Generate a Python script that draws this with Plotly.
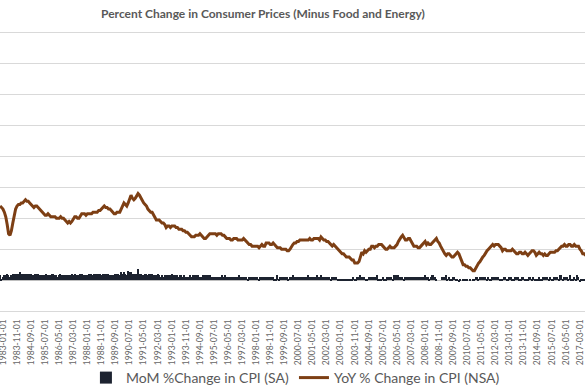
import plotly.graph_objects as go

# ---------------- data ----------------
years = list(range(1983, 2018))
yoy_1982 = [4.8, 4.7]  # Nov, Dec 1982
yoy_by_year = {
    1983: [4.6, 4.4, 4.1, 3.6, 3.0, 2.9, 3.2, 3.7, 4.3, 4.6, 4.8, 4.9],
    1984: [4.9, 5.0, 5.0, 5.1, 5.2, 5.1, 5.1, 5.0, 4.9, 4.8, 4.7, 4.8],
    1985: [4.8, 4.7, 4.6, 4.5, 4.4, 4.3, 4.2, 4.2, 4.3, 4.2, 4.1, 4.1],
    1986: [4.1, 4.1, 4.0, 4.0, 4.0, 4.1, 4.0, 4.0, 3.9, 3.8, 3.7, 3.8],
    1987: [3.7, 3.8, 4.0, 4.1, 4.1, 4.0, 4.0, 4.2, 4.3, 4.3, 4.3, 4.2],
    1988: [4.3, 4.3, 4.3, 4.3, 4.4, 4.4, 4.4, 4.4, 4.5, 4.5, 4.6, 4.7],
    1989: [4.8, 4.7, 4.7, 4.6, 4.6, 4.5, 4.4, 4.3, 4.3, 4.4, 4.4, 4.4],
    1990: [4.6, 4.8, 5.0, 4.9, 4.8, 5.0, 5.3, 5.5, 5.3, 5.2, 5.3, 5.5],
    1991: [5.6, 5.5, 5.3, 5.1, 5.0, 4.9, 4.8, 4.6, 4.5, 4.4, 4.4, 4.2],
    1992: [4.0, 3.9, 3.9, 3.9, 3.8, 3.7, 3.7, 3.6, 3.4, 3.5, 3.5, 3.4],
    1993: [3.5, 3.5, 3.5, 3.4, 3.4, 3.3, 3.3, 3.3, 3.2, 3.2, 3.1, 3.1],
    1994: [3.0, 2.9, 2.8, 2.8, 2.8, 2.9, 2.9, 2.9, 3.0, 2.9, 2.8, 2.7],
    1995: [2.7, 2.8, 2.9, 3.0, 3.0, 3.0, 3.0, 3.0, 2.9, 3.0, 3.0, 3.0],
    1996: [2.9, 2.9, 2.8, 2.7, 2.7, 2.7, 2.6, 2.6, 2.7, 2.7, 2.7, 2.6],
    1997: [2.6, 2.6, 2.6, 2.7, 2.6, 2.5, 2.4, 2.3, 2.3, 2.2, 2.2, 2.2],
    1998: [2.2, 2.2, 2.1, 2.2, 2.3, 2.2, 2.2, 2.4, 2.4, 2.4, 2.3, 2.3],
    1999: [2.4, 2.3, 2.2, 2.1, 2.1, 2.1, 2.0, 2.0, 2.0, 2.0, 1.9, 1.9],
    2000: [2.0, 2.2, 2.3, 2.4, 2.4, 2.5, 2.5, 2.6, 2.6, 2.6, 2.6, 2.6],
    2001: [2.6, 2.6, 2.7, 2.6, 2.6, 2.7, 2.7, 2.7, 2.7, 2.6, 2.8, 2.7],
    2002: [2.6, 2.6, 2.5, 2.5, 2.4, 2.3, 2.2, 2.3, 2.2, 2.1, 2.0, 1.9],
    2003: [1.8, 1.7, 1.7, 1.6, 1.5, 1.5, 1.5, 1.4, 1.3, 1.3, 1.1, 1.1],
    2004: [1.1, 1.2, 1.6, 1.8, 1.7, 1.9, 1.8, 1.9, 2.0, 2.0, 2.2, 2.2],
    2005: [2.1, 2.2, 2.2, 2.3, 2.3, 2.3, 2.2, 2.1, 2.0, 2.0, 2.1, 2.2],
    2006: [2.1, 2.1, 2.1, 2.2, 2.3, 2.5, 2.7, 2.8, 2.9, 2.7, 2.6, 2.6],
    2007: [2.7, 2.7, 2.5, 2.4, 2.2, 2.2, 2.2, 2.1, 2.1, 2.2, 2.3, 2.4],
    2008: [2.5, 2.3, 2.4, 2.3, 2.3, 2.4, 2.5, 2.6, 2.7, 2.5, 2.4, 2.2],
    2009: [2.0, 1.8, 1.7, 1.6, 1.7, 1.7, 1.6, 1.5, 1.5, 1.6, 1.7, 1.8],
    2010: [1.7, 1.5, 1.2, 1.0, 1.0, 0.9, 0.9, 0.8, 0.8, 0.7, 0.6, 0.6],
    2011: [0.8, 1.0, 1.1, 1.2, 1.4, 1.5, 1.6, 1.8, 1.9, 2.0, 2.1, 2.2],
    2012: [2.3, 2.2, 2.3, 2.3, 2.3, 2.2, 2.1, 1.9, 2.0, 2.0, 1.9, 1.9],
    2013: [1.9, 1.9, 2.0, 1.9, 1.8, 1.7, 1.7, 1.8, 1.8, 1.7, 1.7, 1.8],
    2014: [1.7, 1.6, 1.7, 1.8, 1.9, 1.9, 1.8, 1.6, 1.7, 1.8, 1.7, 1.7],
    2015: [1.6, 1.7, 1.6, 1.6, 1.7, 1.8, 1.8, 1.8, 1.8, 1.9, 1.9, 2.0],
    2016: [2.1, 2.2, 2.2, 2.3, 2.2, 2.2, 2.3, 2.3, 2.2, 2.2, 2.3, 2.2],
    2017: [2.2, 2.2, 2.0, 1.9, 1.7, 1.7, 1.6],
}
mom_1982 = [0.3, 0.1]
mom_by_year = {
    1983: [0.2, 0.3, 0.3, 0.4, 0.3, 0.2, 0.3, 0.4, 0.4, 0.4, 0.4, 0.4],
    1984: [0.5, 0.4, 0.4, 0.4, 0.4, 0.4, 0.4, 0.4, 0.4, 0.3, 0.3, 0.4],
    1985: [0.4, 0.4, 0.3, 0.3, 0.3, 0.3, 0.3, 0.4, 0.3, 0.3, 0.3, 0.4],
    1986: [0.4, 0.3, 0.3, 0.2, 0.3, 0.4, 0.3, 0.3, 0.3, 0.3, 0.3, 0.3],
    1987: [0.3, 0.4, 0.3, 0.4, 0.3, 0.3, 0.3, 0.4, 0.4, 0.3, 0.3, 0.3],
    1988: [0.3, 0.4, 0.4, 0.4, 0.3, 0.4, 0.4, 0.3, 0.4, 0.4, 0.3, 0.4],
    1989: [0.4, 0.4, 0.4, 0.4, 0.3, 0.3, 0.3, 0.3, 0.4, 0.4, 0.4, 0.3],
    1990: [0.5, 0.4, 0.5, 0.4, 0.3, 0.6, 0.5, 0.5, 0.4, 0.4, 0.4, 0.4],
    1991: [0.7, 0.4, 0.4, 0.3, 0.3, 0.4, 0.4, 0.3, 0.4, 0.4, 0.4, 0.3],
    1992: [0.3, 0.3, 0.4, 0.3, 0.2, 0.3, 0.2, 0.3, 0.2, 0.3, 0.3, 0.3],
    1993: [0.4, 0.3, 0.3, 0.3, 0.3, 0.2, 0.3, 0.3, 0.2, 0.3, 0.2, 0.2],
    1994: [0.2, 0.3, 0.2, 0.3, 0.3, 0.3, 0.3, 0.3, 0.2, 0.2, 0.3, 0.2],
    1995: [0.3, 0.3, 0.3, 0.3, 0.2, 0.2, 0.2, 0.2, 0.2, 0.2, 0.2, 0.2],
    1996: [0.3, 0.2, 0.3, 0.2, 0.2, 0.2, 0.2, 0.2, 0.2, 0.2, 0.2, 0.2],
    1997: [0.3, 0.2, 0.2, 0.2, 0.2, 0.2, 0.1, 0.2, 0.2, 0.2, 0.2, 0.2],
    1998: [0.2, 0.2, 0.1, 0.2, 0.2, 0.2, 0.2, 0.2, 0.2, 0.2, 0.2, 0.2],
    1999: [0.2, 0.1, 0.1, 0.3, 0.1, 0.2, 0.2, 0.2, 0.2, 0.2, 0.2, 0.1],
    2000: [0.2, 0.2, 0.3, 0.2, 0.2, 0.2, 0.2, 0.2, 0.2, 0.2, 0.2, 0.2],
    2001: [0.2, 0.3, 0.2, 0.2, 0.2, 0.2, 0.2, 0.3, 0.2, 0.2, 0.3, 0.2],
    2002: [0.2, 0.2, 0.2, 0.2, 0.2, 0.1, 0.2, 0.2, 0.2, 0.2, 0.1, 0.1],
    2003: [0.1, 0.1, 0.1, 0.1, 0.1, 0.1, 0.1, 0.1, 0.1, 0.2, 0.1, 0.1],
    2004: [0.2, 0.2, 0.3, 0.2, 0.2, 0.2, 0.1, 0.1, 0.2, 0.2, 0.2, 0.2],
    2005: [0.2, 0.2, 0.3, 0.1, 0.1, 0.1, 0.2, 0.1, 0.1, 0.2, 0.2, 0.2],
    2006: [0.2, 0.1, 0.3, 0.3, 0.3, 0.3, 0.2, 0.2, 0.2, 0.1, 0.2, 0.2],
    2007: [0.2, 0.2, 0.2, 0.2, 0.2, 0.2, 0.2, 0.2, 0.2, 0.2, 0.2, 0.2],
    2008: [0.3, 0.2, 0.2, 0.1, 0.2, 0.3, 0.3, 0.2, 0.1, 0.0, 0.0, 0.0],
    2009: [0.2, 0.2, 0.2, 0.3, 0.1, 0.2, 0.1, 0.1, 0.2, 0.2, 0.1, 0.1],
    2010: [-0.1, 0.1, 0.0, 0.1, 0.1, 0.1, 0.1, 0.0, 0.1, 0.0, 0.1, 0.1],
    2011: [0.2, 0.2, 0.1, 0.2, 0.2, 0.2, 0.2, 0.2, 0.1, 0.2, 0.1, 0.1],
    2012: [0.2, 0.2, 0.2, 0.2, 0.2, 0.1, 0.1, 0.1, 0.2, 0.2, 0.1, 0.1],
    2013: [0.2, 0.2, 0.1, 0.1, 0.2, 0.2, 0.2, 0.1, 0.1, 0.2, 0.2, 0.1],
    2014: [0.1, 0.1, 0.2, 0.2, 0.1, 0.2, 0.1, 0.1, 0.1, 0.2, 0.1, 0.1],
    2015: [0.2, 0.2, 0.2, 0.2, 0.1, 0.2, 0.1, 0.1, 0.2, 0.2, 0.2, 0.1],
    2016: [0.3, 0.3, 0.1, 0.2, 0.2, 0.2, 0.1, 0.3, 0.1, 0.1, 0.2, 0.1],
    2017: [0.3, 0.2, -0.1, 0.1, 0.1, 0.1, 0.1],
}

# category labels (monthly dates)
dates = ["1982-11-01", "1982-12-01"]
yoy = list(yoy_1982)
mom = list(mom_1982)
for y in years:
    vals = yoy_by_year[y]
    for m in range(len(vals)):
        dates.append(f"{y}-{m + 1:02d}-01")
    yoy += vals
    mom += mom_by_year[y]

tick_labels = dates[2::10]

TITLE = "Percent Change in Consumer Prices (Minus Food and Energy)"
FONT = "Lato, 'Open Sans', sans-serif"
GREY = "#595959"

fig = go.Figure()
fig.add_trace(go.Bar(
    x=dates, y=mom, name="MoM %Change in CPI (SA)",
    marker=dict(color="#1d2330", line=dict(width=0)),
))
fig.add_trace(go.Scatter(
    x=dates, y=yoy, name="YoY % Change in CPI (NSA)", mode="lines",
    line=dict(color="#7d3f14", width=3),
))

fig.update_layout(
    template="none",
    width=585, height=390,
    margin=dict(l=0, r=0, t=33, b=79, autoexpand=False),
    paper_bgcolor="white", plot_bgcolor="white",
    bargap=0,
    font=dict(family=FONT, color=GREY),
    title=dict(text=TITLE, x=263 / 585, xanchor="center", xref="paper",
               y=1 - 14 / 390, yanchor="middle", yref="container",
               font=dict(size=12, color=GREY, family="Lato, sans-serif", weight="bold")),
    showlegend=True,
    legend=dict(orientation="h", x=0.505, xanchor="center", y=-0.241, yanchor="middle",
                font=dict(size=14, color=GREY), itemwidth=30, tracegroupgap=0,
                bgcolor="rgba(0,0,0,0)"),
)
fig.update_xaxes(
    type="category", range=[-0.1, len(dates) - 1.4], automargin=False,
    tickmode="array", tickvals=tick_labels, ticktext=tick_labels,
    tickangle=-90, tickfont=dict(size=8.5, color="#666666"), ticklabelstandoff=4,
    showgrid=False, ticks="", zeroline=False,
    showline=True, mirror=True, linecolor="#d9d9d9", linewidth=1,
)
fig.update_yaxes(
    range=[-2, 16], dtick=2, tick0=0, showticklabels=False, automargin=False,
    showgrid=True, gridcolor="#d9d9d9", gridwidth=1, ticks="",
    zeroline=True, zerolinecolor="#bfbfbf", zerolinewidth=1, showline=False,
)

fig.write_html(
    "out.html",
    config={"displayModeBar": False},
    post_script="document.body.style.margin='0px';document.body.style.overflow='hidden';",
)
